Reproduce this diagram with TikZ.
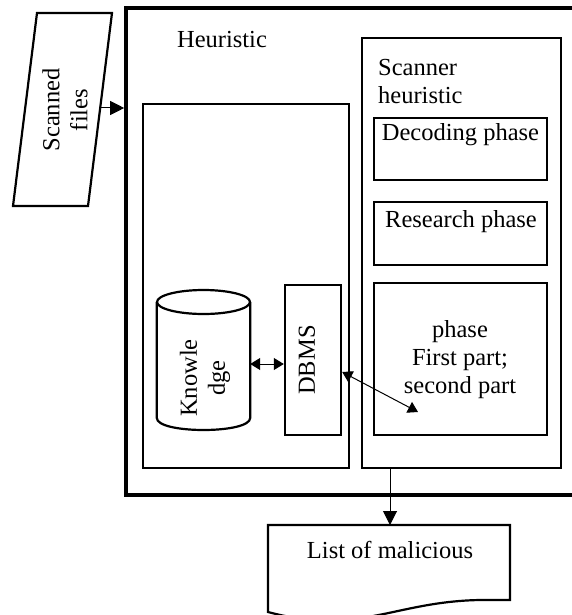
\documentclass[tikz,border=0pt]{standalone}
\usepackage{fontspec}
\setmainfont{Liberation Serif}
\usetikzlibrary{arrows.meta}
\begin{document}
\begin{tikzpicture}[x=1pt,y=-1pt,
  every node/.style={font=\fontsize{24.5}{28}\selectfont, inner sep=0pt},
  frame/.style={draw, line width=#1, inner sep=0pt},
  arr/.style={line width=1pt, -{Triangle[length=14pt,width=14pt]}},
  dbl/.style={line width=1pt, {Triangle[length=10pt,width=12pt]}-{Triangle[length=10pt,width=12pt]}},
  outline/.style={line width=2.2pt, line join=miter}]
\useasboundingbox (0,0) rectangle (572,615);

% outer heuristic frame
\node[frame=3.6pt, minimum width=480pt, minimum height=487pt] (outer) at (366,251.5) {};
\node (heur) at (222,40) {Heuristic};

% scanned files (parallelogram)
\coordinate (pA) at (37,13);
\coordinate (pB) at (112,13);
\coordinate (pC) at (88,206);
\coordinate (pD) at (13,206);
\draw[outline] (pA) -- (pB) -- (pC) -- (pD) -- cycle;
\node[rotate=90, align=center] (sf) at (65,110) {Scanned\\files};
\coordinate (sfR) at (100,108);
\draw[arr] (sfR) -- (outer.west |- sfR);

% inner left box
\node[frame=2.4pt, minimum width=206pt, minimum height=364pt] (left) at (246,286) {};

% scanner heuristic column
\node[frame=2.2pt, minimum width=199pt, minimum height=430pt] (scan) at (461.5,253) {};
\node[anchor=north west, align=left] (scant) at (378,59) {Scanner\\heuristic};

\node[frame=2.4pt, minimum width=173pt, minimum height=62pt] (dec) at (460.5,149) {};
\node[anchor=base] (dect) at (460.5,140) {Decoding phase};

\node[frame=2.4pt, minimum width=173pt, minimum height=63pt] (res) at (460.5,233.5) {};
\node[anchor=base] (rest) at (461,227) {Research phase};

\node[frame=2.4pt, minimum width=173pt, minimum height=152pt] (ph) at (460.5,359) {};
\node[align=center] (pht) at (460,360) {phase\\First part;\\second part};

% DBMS
\node[frame=2.4pt, minimum width=56pt, minimum height=150pt] (dbms) at (313,360) {};
\node[rotate=90] (dbmst) at (307,360) {DBMS};

% Knowledge cylinder
\node[minimum width=93pt, minimum height=128pt] (kn) at (203.5,360) {};
\draw[outline] (kn.north west |- 0,302) -- (kn.west |- 0,418)
  .. controls (157,434) and (250,434) .. (kn.east |- 0,418) -- (kn.east |- 0,302);
\draw[outline] (203.5,302) ellipse [x radius=46.5pt, y radius=12pt];
\node[rotate=90, align=center] (knt) at (205,378) {Knowle\\dge};

% connectors
\coordinate (ky) at (0,364);
\draw[dbl] (kn.east |- ky) -- (dbms.west |- ky);
\coordinate (dy) at (0,372);
\coordinate (phP) at (418,412);
\draw[dbl] (dbms.east |- dy) -- (phP);

% document
\coordinate (dT) at (390,525);
\draw[arr] (scan.south -| dT) -- (dT);
\draw[outline] (268,525) -- (510,525) -- (510,600) -- (480,600)
  .. controls (420,601) and (385,618) .. (340,620)
  .. controls (300,621) and (280,615) .. (268,612) -- cycle;
\node (doc) at (390,550) {List of malicious};
\end{tikzpicture}
\end{document}
